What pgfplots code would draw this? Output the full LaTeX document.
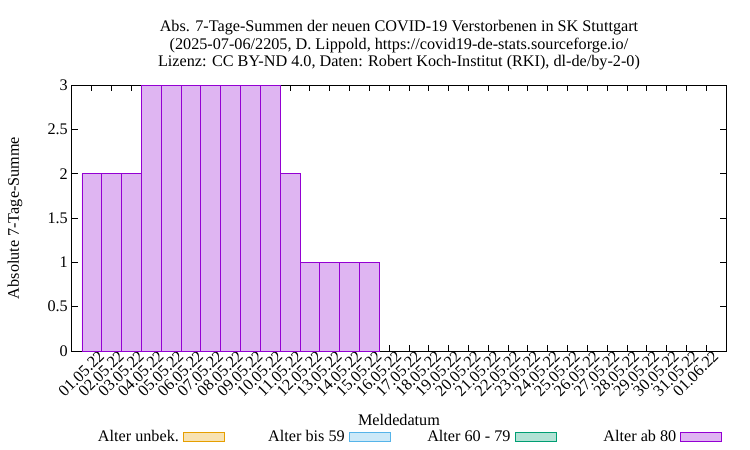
\documentclass[border=0pt]{standalone}
\usepackage{pgfplots}
\pgfplotsset{compat=1.18}
\usepackage{fontspec}
\setmainfont{Liberation Serif}

\definecolor{edgeOrange}{RGB}{230,159,0}
\definecolor{fillOrange}{RGB}{248,226,178}
\definecolor{edgeBlue}{RGB}{86,180,233}
\definecolor{fillBlue}{RGB}{204,233,248}
\definecolor{edgeGreen}{RGB}{0,158,115}
\definecolor{fillGreen}{RGB}{178,226,213}
\definecolor{edgeViolet}{RGB}{148,0,211}
\definecolor{fillViolet}{RGB}{223,181,242}

\newcommand{\keytext}[1]{\makebox[84pt][r]{#1}}

\begin{document}
\begin{tikzpicture}
\useasboundingbox (-72pt,-99pt) rectangle (678pt,351pt);
\begin{axis}[
    scale only axis,
    width=654pt, height=266pt,
    font=\fontsize{16.2}{17.5}\selectfont,
    xmin=-1, xmax=32,
    ymin=0, ymax=3,
    xtick={0,...,31},
    xticklabels={01.05.22,02.05.22,03.05.22,04.05.22,05.05.22,06.05.22,07.05.22,08.05.22,
        09.05.22,10.05.22,11.05.22,12.05.22,13.05.22,14.05.22,15.05.22,16.05.22,
        17.05.22,18.05.22,19.05.22,20.05.22,21.05.22,22.05.22,23.05.22,24.05.22,
        25.05.22,26.05.22,27.05.22,28.05.22,29.05.22,30.05.22,31.05.22,01.06.22},
    xticklabel style={rotate=45, anchor=north east, inner sep=0pt, xshift=5pt, yshift=-3pt},
    ytick={0,0.5,...,3},
    yticklabel style={inner sep=2pt, xshift=-2pt},
    /pgf/number format/assume math mode=true,
    tick align=inside,
    major tick length=6pt,
    tick style={black, line width=0.8pt},
    axis line style={black, line width=1pt},
    title={Abs. 7-Tage-Summen der neuen COVID-19 Verstorbenen in SK Stuttgart\\
        (2025-07-06/2205, D. Lippold, https://covid19-de-stats.sourceforge.io/\\
        Lizenz: CC BY-ND 4.0, Daten: Robert Koch-Institut (RKI), dl-de/by-2-0)},
    title style={at={(axis description cs:0.5,1)}, anchor=south, yshift=5pt, align=center},
    xlabel={Meldedatum},
    xlabel style={at={(axis description cs:0.5,0)}, anchor=center, yshift=-69pt},
    ylabel={Absolute 7-Tage-Summe},
    ylabel style={at={(axis description cs:-0.087,0.5)}, anchor=center},
    legend columns=4,
    legend plot pos=right,
    legend cell align=right,
    legend style={draw=none, fill=none, at={(axis description cs:0.5115,0)},
        anchor=center, yshift=-86pt,
        nodes={inner sep=4pt}},
    /tikz/every even column/.append style={column sep=32pt},
    legend image code/.code={\draw[#1, line width=0.8pt] (2pt,-4.5pt) rectangle (43pt,4.5pt);},
]
\addlegendimage{draw=edgeOrange, fill=fillOrange}
\addlegendimage{draw=edgeBlue, fill=fillBlue}
\addlegendimage{draw=edgeGreen, fill=fillGreen}
\addplot[ybar, bar width=1, draw=edgeViolet, fill=fillViolet, line width=0.8pt]
    coordinates {
    (0,2) (1,2) (2,2) (3,3) (4,3) (5,3) (6,3) (7,3) (8,3) (9,3)
    (10,2) (11,1) (12,1) (13,1) (14,1)
};
\legend{\keytext{Alter unbek.}, \keytext{Alter bis 59}, \keytext{Alter 60 - 79}, \keytext{Alter ab 80}}
\end{axis}
\end{tikzpicture}
\end{document}
